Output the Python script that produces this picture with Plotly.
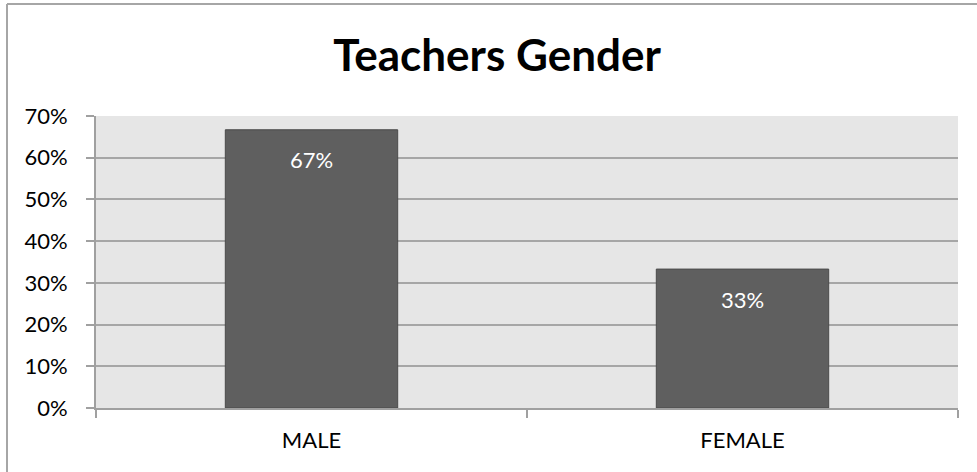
import plotly.graph_objects as go

categories = ["MALE", "FEMALE"]
shares = [0.667, 0.333]
y_ticks = [0, 0.1, 0.2, 0.3, 0.4, 0.5, 0.6, 0.7]
y_tick_labels = ["0%", "10%", "20%", "30%", "40%", "50%", "60%", "70%"]

W, H = 977, 472
ml, mr, mt, mb = 96, 19, 116, 64
pw, ph = W - ml - mr, H - mt - mb

fig = go.Figure()
fig.add_trace(go.Bar(x=categories, y=shares, width=0.4,
                     marker=dict(color="#5f5f5f", line=dict(color="#4a4a4a", width=1))))

# value labels sit a bit below the top of each bar
for c, v in zip(categories, shares):
    fig.add_annotation(x=c, y=v, text=str(round(v * 100)) + "%", showarrow=False,
                       yshift=-30, font=dict(color="white", size=22, family="Lato"))

# outer chart frame: only the left and top edges are in view
fx0 = (7 - ml) / pw
fy1 = (H - mb - 4) / ph
fig.add_shape(type="line", xref="paper", yref="paper", x0=fx0, x1=fx0,
              y0=-mb / ph, y1=fy1, line=dict(color="#a6a6a6", width=2), layer="below")
fig.add_shape(type="line", xref="paper", yref="paper", x0=fx0, x1=(W - ml) / pw,
              y0=fy1, y1=fy1, line=dict(color="#a6a6a6", width=2), layer="below")

fig.update_layout(
    width=W, height=H,
    margin=dict(l=ml, r=mr, t=mt, b=mb),
    paper_bgcolor="white", plot_bgcolor="#e6e6e6",
    showlegend=False,
    font=dict(family="Lato", color="black", size=22),
    title=dict(text="<b>Teachers Gender</b>", x=497 / W, xanchor="center",
               y=1 - 56 / H, yanchor="middle", yref="container",
               font=dict(size=44, family="Lato", color="black")),
)
fig.update_xaxes(showgrid=False, showline=True, linecolor="#a0a0a0", linewidth=2,
                 ticks="outside", tickson="boundaries", ticklen=8, tickwidth=2,
                 tickcolor="#a0a0a0", ticklabelstandoff=12)
fig.update_yaxes(range=[0, 0.7], tickvals=y_ticks, ticktext=y_tick_labels,
                 showgrid=True, gridcolor="#a6a6a6", gridwidth=2,
                 showline=True, linecolor="#a0a0a0", linewidth=2,
                 ticks="outside", ticklen=8, tickwidth=2, tickcolor="#a0a0a0",
                 ticklabelstandoff=14, zeroline=False)

# drop the default page margin (and any scrollbars) so the figure sits at the window's corner
fig.write_html("out.html", config={"displayModeBar": False},
               post_script="document.body.style.margin='0';document.body.style.overflow='hidden';")
